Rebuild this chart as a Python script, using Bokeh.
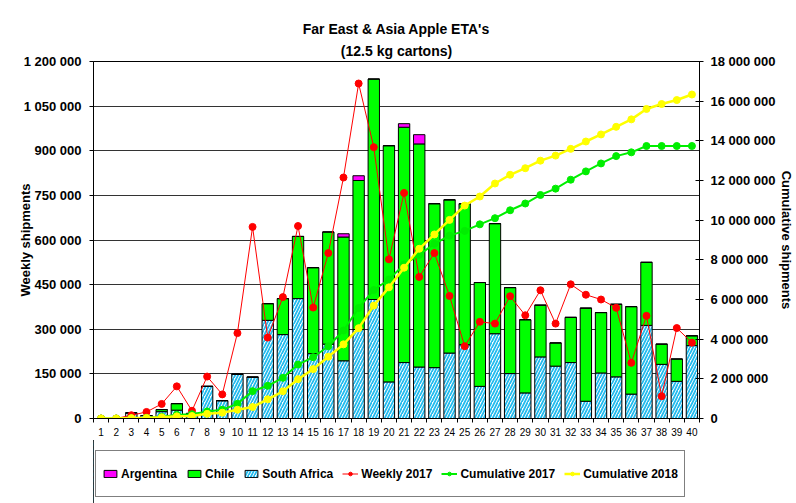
from bokeh.plotting import figure
from bokeh.layouts import column
from bokeh.models import (Range1d, LinearAxis, FixedTicker, Legend, LegendItem,
                          ColumnDataSource, Title)
from bokeh.embed import file_html
from bokeh.resources import INLINE

weeks = list(range(1, 41))
south_africa = [0, 0, 19000, 10000, 23000, 28000, 17000, 108000, 60000, 149000,
                139000, 330000, 282000, 403000, 218000, 250000, 194000, 299000, 400000, 123000,
                188000, 173000, 171000, 220000, 248000, 108000, 285000, 151000, 86000, 207000,
                176000, 188000, 58000, 153000, 140000, 82000, 313000, 182000, 125000, 245000]
chile = [0, 0, 0, 0, 7000, 22000, 0, 0, 0, 0,
         0, 56000, 121000, 209000, 289000, 377000, 416000, 501000, 741000, 794000,
         791000, 750000, 551000, 515000, 474000, 349000, 370000, 289000, 246000, 174000,
         78000, 152000, 313000, 203000, 244000, 294000, 212000, 68000, 75000, 33000]
argentina = [0, 0, 0, 0, 0, 0, 0, 0, 0, 0,
             0, 0, 0, 0, 0, 0, 11000, 16000, 0, 0,
             12000, 31000, 0, 0, 0, 0, 0, 0, 0, 0,
             0, 0, 0, 0, 0, 0, 0, 0, 0, 0]
weekly_2017 = [0, 0, 11000, 22000, 49000, 108000, 26000, 141000, 81000, 287000,
               644000, 272000, 408000, 647000, 373000, 556000, 810000, 1126000, 912000, 535000,
               758000, 476000, 556000, 412000, 243000, 325000, 319000, 411000, 347000, 431000,
               319000, 451000, 416000, 400000, 372000, 187000, 345000, 75000, 304000, 255000]
cumulative_2017 = [0, 0, 11000, 33000, 82000, 190000, 216000, 357000, 440000, 740000,
                   1380000, 1650000, 2050000, 2720000, 3090000, 3640000, 4440000, 5570000, 6480000, 7010000,
                   7770000, 8250000, 8810000, 9220000, 9460000, 9790000, 10100000, 10500000, 10840000, 11270000,
                   11590000, 12040000, 12460000, 12860000, 13230000, 13420000, 13740000, 13740000, 13740000, 13740000]
cumulative_2018 = [0, 0, 19000, 29000, 59000, 109000, 126000, 234000, 294000, 443000,
                   582000, 968000, 1371000, 1983000, 2490000, 3117000, 3738000, 4554000, 5695000, 6612000,
                   7603000, 8557000, 9279000, 10014000, 10736000, 11193000, 11848000, 12288000, 12620000, 13001000,
                   13255000, 13595000, 13966000, 14322000, 14706000, 15082000, 15607000, 15857000, 16057000, 16335000]

left_ticks = [0, 150000, 300000, 450000, 600000, 750000, 900000, 1050000, 1200000]
left_labels = ["0", "150 000", "300 000", "450 000", "600 000", "750 000", "900 000",
               "1 050 000", "1 200 000"]
right_ticks = [0, 2000000, 4000000, 6000000, 8000000, 10000000, 12000000, 14000000,
               16000000, 18000000]
right_labels = ["0", "2 000 000", "4 000 000", "6 000 000", "8 000 000", "10 000 000",
                "12 000 000", "14 000 000", "16 000 000", "18 000 000"]
series_names = ["Argentina", "Chile", "South Africa", "Weekly 2017",
                "Cumulative 2017", "Cumulative 2018"]

FONT = "Liberation Sans"
C_ARG, C_CHILE, C_SA_HATCH = "#ff00ff", "#00ff00", "#22bbee"
C_W17, C_C17, C_C18 = "#ff0000", "#00ee00", "#ffff00"
SA_KW = dict(fill_color="white", hatch_pattern="/", hatch_color=C_SA_HATCH,
             hatch_scale=6, hatch_weight=1.8, line_color="black", line_width=1)

src = ColumnDataSource(dict(week=weeks, sa=south_africa, chile=chile, arg=argentina,
                            w17=weekly_2017, c17=cumulative_2017, c18=cumulative_2018))

p = figure(width=796, height=440, output_backend="svg", toolbar_location=None,
           title="Far East & Asia Apple ETA's",
           x_range=Range1d(0.5, 40.5), y_range=Range1d(0, 1200000),
           min_border_left=93, min_border_right=94, min_border_top=61,
           min_border_bottom=22)
p.extra_y_ranges = {"cum": Range1d(0, 18000000)}
p.background_fill_color = "white"
p.border_fill_color = "white"
p.outline_line_color = "black"
p.outline_line_width = 1

TITLE_KW = dict(align="center", text_font=FONT, text_font_size="14px",
                text_font_style="bold", text_color="black")
for k, v in TITLE_KW.items():
    setattr(p.title, k, v)
p.title.standoff = 2
p.add_layout(Title(text="(12.5 kg cartons)", standoff=6, **TITLE_KW), "above")

# x axis
xa = p.xaxis[0]
xa.ticker = FixedTicker(ticks=weeks, minor_ticks=[w + 0.5 for w in range(0, 41)])
xa.major_tick_out = 0
xa.major_tick_in = 0
xa.minor_tick_out = 4
xa.minor_tick_in = 0
xa.minor_tick_line_color = "black"
xa.axis_line_color = "black"
xa.major_label_text_font = FONT
xa.major_label_text_font_size = "10px"
xa.major_label_text_color = "black"
xa.major_label_standoff = 5

# left axis
ya = p.yaxis[0]
ya.ticker = FixedTicker(ticks=left_ticks)
ya.major_label_overrides = {t: l for t, l in zip(left_ticks, left_labels)}
ya.major_tick_out = 4
ya.major_tick_in = 0
ya.minor_tick_line_color = None
ya.axis_line_color = "black"
ya.major_tick_line_color = "black"
ya.major_label_text_font = FONT
ya.major_label_text_font_size = "13px"
ya.major_label_text_font_style = "bold"
ya.major_label_text_color = "black"
ya.major_label_standoff = 8
ya.axis_label = "Weekly shipments"
ya.axis_label_text_font = FONT
ya.axis_label_text_font_size = "13px"
ya.axis_label_text_font_style = "bold"
ya.axis_label_text_color = "black"
ya.axis_label_standoff = -12

ra = LinearAxis(y_range_name="cum", ticker=FixedTicker(ticks=right_ticks),
                major_label_overrides={t: l for t, l in zip(right_ticks, right_labels)})
ra.major_tick_out = 4
ra.major_tick_in = 4
ra.minor_tick_line_color = None
ra.axis_line_color = "black"
ra.major_tick_line_color = "black"
ra.major_label_text_font = FONT
ra.major_label_text_font_size = "13px"
ra.major_label_text_font_style = "bold"
ra.major_label_text_color = "black"
ra.major_label_standoff = 7
ra.axis_label = "Cumulative shipments"
ra.axis_label_text_font = FONT
ra.axis_label_text_font_size = "13px"
ra.axis_label_text_font_style = "bold"
ra.axis_label_text_color = "black"
ra.axis_label_standoff = 0
p.add_layout(ra, "right")

p.xgrid.visible = False
p.ygrid.ticker = FixedTicker(ticks=left_ticks)
p.ygrid.grid_line_color = "#333333"
p.ygrid.grid_line_width = 1

p.vbar(x="week", bottom=0, top="sa", width=0.75, source=src, **SA_KW)
p.vbar_stack(["sa", "chile", "arg"], x="week", width=0.75, source=src,
             fill_color=[None, C_CHILE, C_ARG], line_color=[None, "black", "black"],
             line_width=1)

p.line("week", "w17", source=src, line_color=C_W17, line_width=1)
p.scatter("week", "w17", source=src, size=7, fill_color=C_W17, line_color=C_W17)
p.line("week", "c17", source=src, y_range_name="cum", line_color=C_C17, line_width=2)
p.scatter("week", "c17", source=src, y_range_name="cum", size=7,
          fill_color=C_C17, line_color=C_C17)
p.line("week", "c18", source=src, y_range_name="cum", line_color=C_C18, line_width=2.5)
p.scatter("week", "c18", source=src, y_range_name="cum", size=7,
          fill_color=C_C18, line_color=C_C18)

# legend strip: a figure whose glyphs use the same data but lie outside its view
lg = figure(width=796, height=63, output_backend="svg", toolbar_location=None,
            x_range=Range1d(100, 101), y_range=Range1d(0, 1), min_border=0)
lg.axis.visible = False
lg.grid.visible = False
lg.outline_line_color = None
lg.background_fill_color = "white"
lg.border_fill_color = "white"
g_arg = lg.vbar(x="week", top="arg", width=0.75, source=src, fill_color=C_ARG,
                line_color="black", line_width=1)
g_chile = lg.vbar(x="week", top="chile", width=0.75, source=src, fill_color=C_CHILE,
                  line_color="black", line_width=1)
g_sa = lg.vbar(x="week", top="sa", width=0.75, source=src, **SA_KW)
g_w17 = [lg.line("week", "w17", source=src, line_color=C_W17, line_width=1),
         lg.scatter("week", "w17", source=src, size=7, fill_color=C_W17, line_color=C_W17)]
g_c17 = [lg.line("week", "c17", source=src, line_color=C_C17, line_width=2),
         lg.scatter("week", "c17", source=src, size=7, fill_color=C_C17, line_color=C_C17)]
g_c18 = [lg.line("week", "c18", source=src, line_color=C_C18, line_width=2.5),
         lg.scatter("week", "c18", source=src, size=7, fill_color=C_C18, line_color=C_C18)]
renders = [[g_arg], [g_chile], [g_sa], g_w17, g_c17, g_c18]

legend = Legend(items=[LegendItem(label=n, renderers=r) for n, r in zip(series_names, renders)],
                orientation="horizontal", location=(2, 6), margin=0, padding=6, spacing=9,
                label_standoff=3, glyph_width=16, glyph_height=9, label_height=33,
                border_line_color="black", border_line_width=1, background_fill_alpha=1,
                label_text_font=FONT, label_text_font_size="12px",
                label_text_font_style="bold", label_text_color="black")
lg.add_layout(legend)

layout = column(p, lg, spacing=0)
open("out.html", "w").write(file_html(layout, INLINE))
